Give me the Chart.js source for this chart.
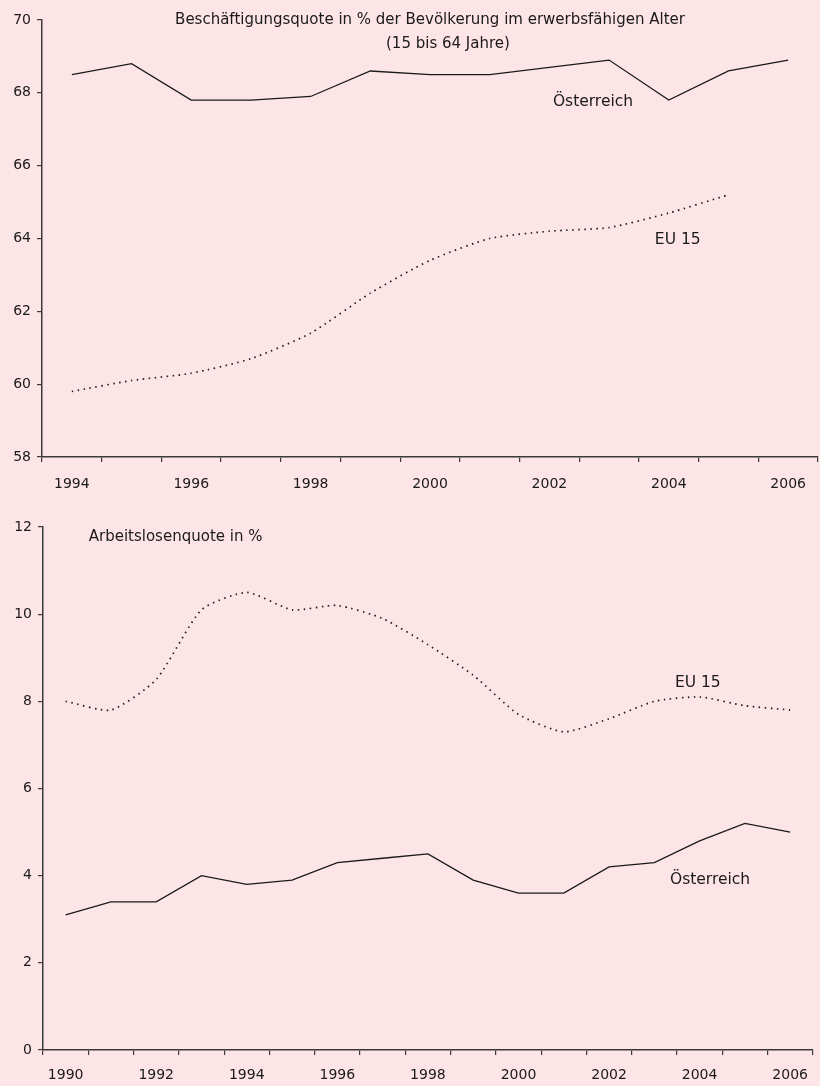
<!DOCTYPE html>
<html>
<head>
<meta charset="utf-8">
<script src="https://cdn.jsdelivr.net/npm/chart.js@4"></script>
<style>
  html, body { margin: 0; padding: 0; background: #fde4e7; overflow: hidden; }
  .box { position: absolute; left: 0; width: 820px; }
  #top { top: 0; height: 500px; }
  #bottom { top: 500px; height: 586px; }
</style>
</head>
<body>
<div class="box" id="top"><canvas id="cTop" width="820" height="500"></canvas></div>
<div class="box" id="bottom"><canvas id="cBottom" width="820" height="586"></canvas></div>
<script>
/* Beschäftigungsquote */
const yearsTop = ['1994','1995','1996','1997','1998','1999','2000','2001','2002','2003','2004','2005','2006'];
const empAT = [68.5, 68.8, 67.8, 67.8, 67.9, 68.6, 68.5, 68.5, 68.7, 68.9, 67.8, 68.6, 68.9];
const empEU = [59.8, 60.1, 60.3, 60.7, 61.4, 62.5, 63.4, 64.0, 64.2, 64.3, 64.7, 65.2, null];

/* Arbeitslosenquote */
const yearsBottom = ['1990','1991','1992','1993','1994','1995','1996','1997','1998','1999','2000','2001','2002','2003','2004','2005','2006'];
const unempEU = [8.0, 7.8, 8.5, 10.1, 10.5, 10.1, 10.2, 9.9, 9.3, 8.6, 7.7, 7.3, 7.6, 8.0, 8.1, 7.9, 7.8];
const unempAT = [3.1, 3.4, 3.4, 4.0, 3.8, 3.9, 4.3, 4.4, 4.5, 3.9, 3.6, 3.6, 4.2, 4.3, 4.8, 5.2, 5.0];

const FONT = '"DejaVu Sans", sans-serif';
const INK = '#1a1a1a';
const AXIS = '#3a3a3a';

// text labels anchored in data coordinates (category index, value)
const notesPlugin = {
  id: 'notes',
  afterDraw(chart, args, opts) {
    const ctx = chart.ctx, xs = chart.scales.x, ys = chart.scales.y;
    ctx.save();
    ctx.fillStyle = INK;
    ctx.textBaseline = 'middle';
    (opts.items || []).forEach(n => {
      ctx.font = (n.size || 15) + 'px ' + FONT;
      ctx.textAlign = n.align || 'center';
      ctx.fillText(n.text, xs.getPixelForValue(n.x), ys.getPixelForValue(n.y));
    });
    ctx.restore();
  }
};

function lineChart(id, labels, datasets, yMin, yMax, padTop, xHeight, tickPad, yWidth, notes) {
  return new Chart(document.getElementById(id), {
    type: 'line',
    data: { labels, datasets },
    plugins: [notesPlugin],
    options: {
      responsive: false,
      animation: false,
      layout: { padding: { top: padTop, right: 0, left: 0, bottom: 0 } },
      elements: { point: { radius: 0 } },
      plugins: { legend: { display: false }, tooltip: { enabled: false }, notes: { items: notes } },
      scales: {
        x: {
          type: 'category',
          offset: true,
          grid: { offset: true, drawOnChartArea: false, tickLength: 5, color: AXIS, lineWidth: 1.2 },
          border: { color: AXIS, width: 1.5 },
          ticks: {
            autoSkip: false, maxRotation: 0, padding: tickPad, color: INK,
            font: { family: FONT, size: 14 },
            callback: (v, i) => (+labels[i] % 2 === 0 ? labels[i] : '')
          },
          afterFit: s => { s.height = xHeight; }
        },
        y: {
          min: yMin, max: yMax,
          grid: { drawOnChartArea: false, tickLength: 5, color: AXIS, lineWidth: 1.2 },
          border: { color: AXIS, width: 1.5 },
          ticks: { stepSize: 2, padding: 6, color: INK, font: { family: FONT, size: 14 } },
          afterFit: s => { s.width = yWidth; }
        }
      }
    }
  });
}

const solid = data => ({ data, borderColor: INK, borderWidth: 1.3, tension: 0, fill: false });
const dotted = data => ({ data, borderColor: INK, borderWidth: 1.7, borderDash: [1.5, 4.5],
  tension: 0.2, fill: false });

lineChart('cTop', yearsTop, [solid(empAT), dotted(empEU)], 58, 70, 20, 43, 14, 42, [
  { text: 'Beschäftigungsquote in % der Bevölkerung im erwerbsfähigen Alter', x: 6.0, y: 70.0 },
  { text: '(15 bis 64 Jahre)', x: 6.3, y: 69.34 },
  { text: 'Österreich', x: 8.73, y: 67.75, size: 15.5 },
  { text: 'EU 15', x: 10.15, y: 63.95, size: 15.5 }
]);

lineChart('cBottom', yearsBottom, [dotted(unempEU), solid(unempAT)], 0, 12, 27, 36, 12, 43, [
  { text: 'Arbeitslosenquote in %', x: 0.51, y: 11.77, align: 'left' },
  { text: 'EU 15', x: 13.96, y: 8.42, size: 15.5 },
  { text: 'Österreich', x: 14.23, y: 3.9, size: 15.5 }
]);
</script>
</body>
</html>
